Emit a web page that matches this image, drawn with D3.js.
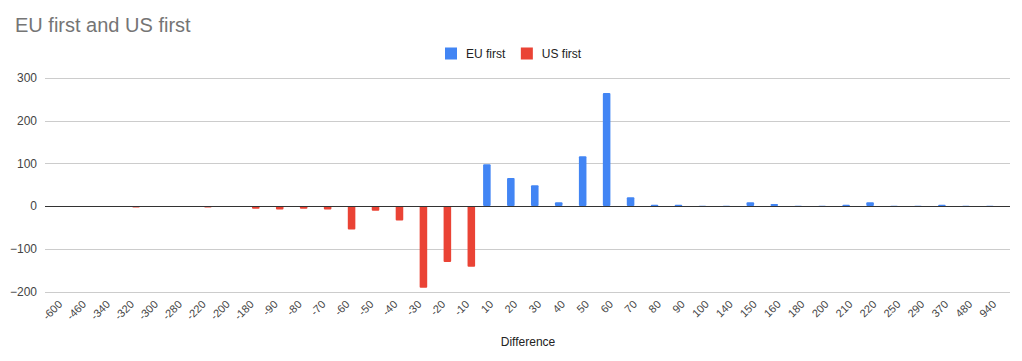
<!DOCTYPE html>
<html><head><meta charset="utf-8">
<script src="https://cdn.jsdelivr.net/npm/d3@7"></script>
<style>
body{margin:0;background:#fff}
svg{display:block;font-family:"Liberation Sans",Arial,sans-serif}
</style>
</head><body>
<svg id="chart" width="1022" height="361"></svg>
<script>
const categories = ["-600","-460","-340","-320","-300","-280","-220","-200","-180","-90","-80","-70","-60","-50","-40","-30","-20","-10",
  "10","20","30","40","50","60","70","80","90","100","140","150","160","180","200","210","220","250","290","370","480","940"];
const euFirst = [0,0,0,0,0,0,0,0,0,0,0,0,0,0,0,0,0,0,
  98,66,49,9,117,265,21,3,3,1,1,9,5,1,1,3,9,1,1,3,1,1];
const usFirst = [0,0,0,-3,0,0,-3,0,-6,-8,-6,-8,-55,-11,-34,-191,-131,-142,
  0,0,0,0,0,0,0,0,0,0,0,0,0,0,0,0,0,0,0,0,0,0];
const seriesNames = ["EU first","US first"];
const seriesColors = ["#4285f4","#ea4335"];
const yTicks = [-200,-100,0,100,200,300];
const titleText = "EU first and US first";
const xTitle = "Difference";

const svg = d3.select("#chart");
const plotLeft = 45, plotRight = 1010;

const x = d3.scaleBand().domain(categories).range([48,1006]).paddingInner(0.334).paddingOuter(0.167);
const xs = d3.scaleBand().domain(seriesNames).range([0, x.bandwidth()]).paddingInner(0.1);
const y = d3.scaleLinear().domain([-200,300]).range([291.5,78]);

// title
svg.append("text").attr("x",15).attr("y",32).attr("font-size",20).attr("fill","#757575").text(titleText);

// legend
const legend = svg.append("g");
let lx = 445;
seriesNames.forEach((n,i)=>{
  legend.append("rect").attr("x",lx).attr("y",47.5).attr("width",12).attr("height",12).attr("fill",seriesColors[i]);
  const t = legend.append("text").attr("x",lx+21).attr("y",57.7).attr("font-size",12).attr("fill","#222").text(n);
  lx += 21 + t.node().getComputedTextLength() + 15.5;
});

// gridlines
const grid = svg.append("g");
yTicks.filter(t=>t!==0).forEach(t=>{
  grid.append("line").attr("x1",plotLeft).attr("x2",plotRight)
    .attr("y1",Math.round(y(t))+0.5).attr("y2",Math.round(y(t))+0.5)
    .attr("stroke","#cccccc").attr("stroke-width",1);
});

// y axis labels
const yAxis = d3.axisLeft(y).tickValues(yTicks).tickSize(0).tickPadding(0).tickFormat(d3.format("d"));
const yg = svg.append("g").attr("transform","translate(37,0)").call(yAxis);
yg.select(".domain").remove();
yg.selectAll("text").attr("font-size",12).attr("fill","#444").attr("font-family","Liberation Sans, Arial, sans-serif");

// bars
const data = categories.map((c,i)=>({c, vals:[euFirst[i],usFirst[i]]}));
const groups = svg.append("g").selectAll("g").data(data).join("g")
  .attr("transform",d=>`translate(${x(d.c)},0)`);
groups.selectAll("rect").data(d=>d.vals.map((v,i)=>({v,s:seriesNames[i],i})).filter(e=>e.v!==0)).join("rect")
  .attr("x",e=>xs(e.s))
  .attr("width",xs.bandwidth())
  .attr("y",e=>Math.min(y(e.v),y(0)))
  .attr("height",e=>Math.abs(y(e.v)-y(0)))
  .attr("rx",1)
  .attr("fill",e=>seriesColors[e.i]);

// zero line
svg.append("line").attr("x1",plotLeft).attr("x2",plotRight)
  .attr("y1",Math.round(y(0))+0.5).attr("y2",Math.round(y(0))+0.5)
  .attr("stroke","#333333").attr("stroke-width",1);

// x axis labels
const xAxis = d3.axisBottom(x).tickSize(0).tickPadding(0);
const xg = svg.append("g").attr("transform","translate(0,0)").call(xAxis);
xg.select(".domain").remove();
xg.selectAll(".tick").attr("transform",d=>`translate(${x(d)+x.bandwidth()/2+3},305)`);
xg.selectAll(".tick text").attr("transform","rotate(-45)").attr("text-anchor","end")
  .attr("dy","0").attr("y",0).attr("x",0)
  .attr("font-size",11).attr("fill","#444").attr("font-family","Liberation Sans, Arial, sans-serif");

// x title
svg.append("text").attr("x",528).attr("y",346).attr("text-anchor","middle").attr("font-size",12).attr("fill","#222").text(xTitle);
</script>
</body></html>
